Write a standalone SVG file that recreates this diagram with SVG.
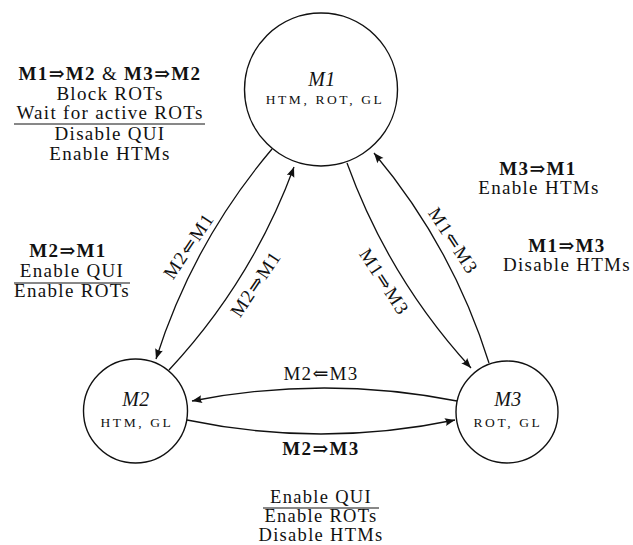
<svg xmlns="http://www.w3.org/2000/svg" width="633" height="545" viewBox="0 0 633 545">
<defs>
<style>
text{font-family:"Liberation Serif","DejaVu Serif",serif;font-size:19px;letter-spacing:1.3px;fill:#111;text-anchor:middle}
.b{font-weight:bold}
.r{font-weight:normal}
.it{font-style:italic;font-size:20px;letter-spacing:0.5px}
.sc{font-size:13.5px;letter-spacing:2.6px}
.sm{font-size:18.5px}
.node{fill:#fff;stroke:#111;stroke-width:1.4}
.edge{fill:none;stroke:#111;stroke-width:1.3;marker-end:url(#ah)}
.rule{stroke:#111;stroke-width:1}
</style>
<marker id="ah" markerUnits="userSpaceOnUse" viewBox="-11 -5 12 10" markerWidth="12" markerHeight="10" refX="0" refY="0" orient="auto">
<path d="M0,0 L-10,-4 Q-7.5,0 -10,4 Z" fill="#111"/>
</marker>
</defs>

<g id="connectors">
<path class="edge" d="M272,149 Q193,242.4 156,359"/>
<path class="edge" d="M169,370 Q251.9,281.1 294,167"/>
<path class="edge" d="M347,163 Q388.5,277.9 471,368"/>
<path class="edge" d="M489,363 Q452.5,246.5 374,153"/>
<path class="edge" d="M457,401 Q324,375 192,401"/>
<path class="edge" d="M187,420 Q321,448 455,420"/>
<text transform="translate(189,246) rotate(-56)" y="6">M2⇐M1</text>
<text transform="translate(256,284) rotate(-56)" y="6">M2⇒M1</text>
<text transform="translate(384,282) rotate(57)" y="6">M1⇒M3</text>
<text transform="translate(453,241) rotate(57)" y="6">M1⇐M3</text>
<text x="321" y="380">M2⇐M3</text>
<text class="b" x="321" y="455">M2⇒M3</text>
</g>

<g id="M1">
<circle class="node" cx="321" cy="89.5" r="76.5"/>
<text class="it" x="322" y="86">M1</text>
<text class="sc" x="325" y="104">HTM, ROT, GL</text>
</g>
<g id="M2">
<circle class="node" cx="135.5" cy="411" r="52"/>
<text class="it" x="136" y="406">M2</text>
<text class="sc" x="137" y="427">HTM, GL</text>
</g>
<g id="M3">
<circle class="node" cx="507" cy="412" r="51"/>
<text class="it" x="508" y="406">M3</text>
<text class="sc" x="508" y="427">ROT, GL</text>
</g>

<g id="note-m1-m2">
<text class="b" x="110" y="80">M1⇒M2 <tspan class="r">&amp;</tspan> M3⇒M2</text>
<text x="110" y="100">Block ROTs</text>
<text x="110" y="119">Wait for active ROTs</text>
<line class="rule" x1="14" y1="124" x2="205" y2="124"/>
<text x="110" y="140">Disable QUI</text>
<text x="110" y="160">Enable HTMs</text>
</g>
<g id="note-m2-m1">
<text class="b" x="68" y="257">M2⇒M1</text>
<text x="72" y="277">Enable QUI</text>
<line class="rule" x1="14" y1="283" x2="130" y2="283"/>
<text x="72" y="297">Enable ROTs</text>
</g>
<g id="note-m3-m1">
<text class="b" x="538" y="175">M3⇒M1</text>
<text x="539" y="194">Enable HTMs</text>
</g>
<g id="note-m1-m3">
<text class="b" x="567" y="252">M1⇒M3</text>
<text x="567" y="271">Disable HTMs</text>
</g>
<g id="note-m2-m3">
<text class="sm" x="321" y="503">Enable QUI</text>
<line class="rule" x1="263" y1="508" x2="379" y2="508"/>
<text class="sm" x="321" y="522">Enable ROTs</text>
<text class="sm" x="321" y="541">Disable HTMs</text>
</g>
</svg>
